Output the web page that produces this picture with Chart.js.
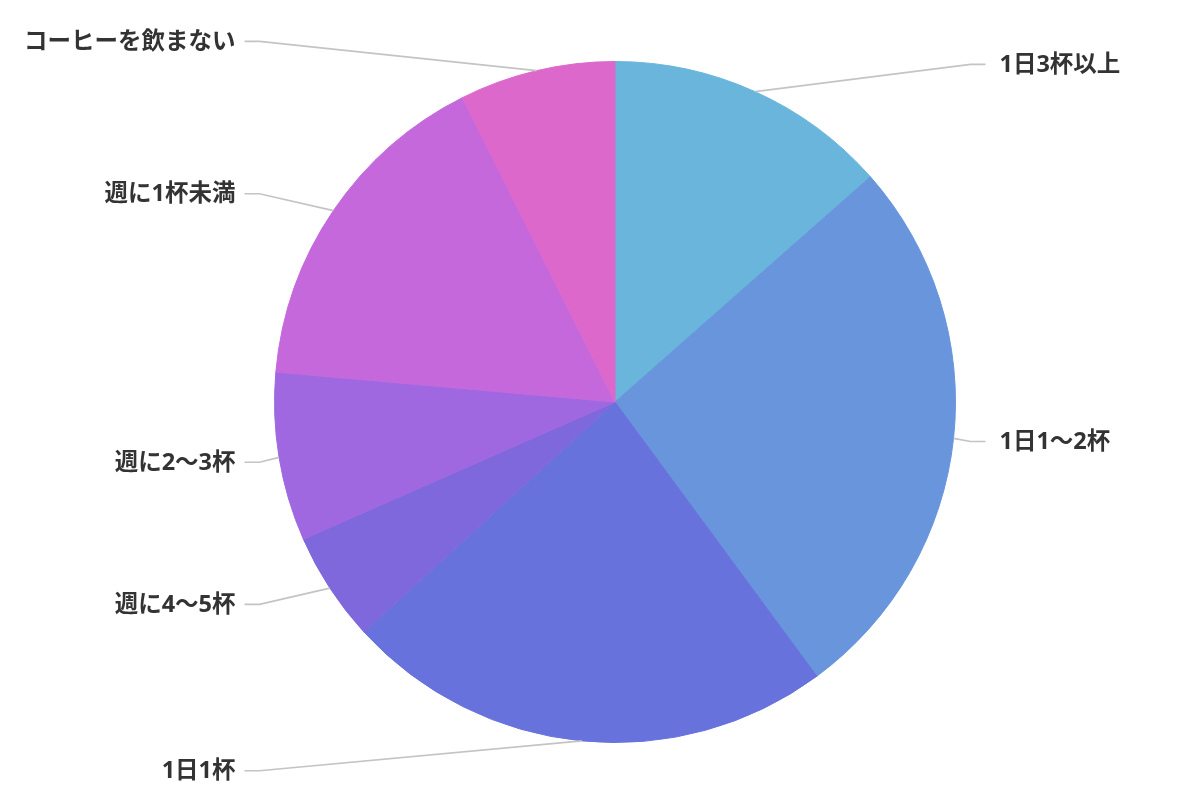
<!DOCTYPE html>
<html>
<head>
<meta charset="utf-8">
<script src="https://cdn.jsdelivr.net/npm/chart.js@4"></script>
<style>
    html, body { margin: 0; padding: 0; background: #fff; }
    .chart-box { width: 1186px; height: 806px; }
</style>
</head>
<body>
<div class="chart-box"><canvas id="coffee"></canvas></div>
<script>
const labels = ["1日3杯以上", "1日1〜2杯", "1日1杯", "週に4〜5杯", "週に2〜3杯", "週に1杯未満", "コーヒーを飲まない"]
const shares = [13.5, 26.4, 23.3, 5.2, 8.0, 16.2, 7.4]
const colors = ["#69b5db", "#6895dc", "#6872dc", "#7f68dc", "#a068e0", "#c468dc", "#dc68cc"]

// labels outside the pie with a leader line, like the original
const outerLabels = {
    id: "outerLabels",
    afterDraw(chart){
        const ctx = chart.ctx
        const arcs = chart.getDatasetMeta(0).data
        ctx.save()
        ctx.font = "bold 23.5px 'Open Sans', 'Noto Sans CJK JP', sans-serif"
        ctx.textBaseline = "middle"
        ctx.fillStyle = "#333333"
        ctx.strokeStyle = "#c4c4c4"
        ctx.lineWidth = 1.7
        arcs.forEach((arc, i) => {
            const cx = arc.x, cy = arc.y, r = arc.outerRadius
            const mid = (arc.startAngle + arc.endAngle) / 2
            const right = Math.cos(mid) >= 0
            const sx = cx + Math.cos(mid) * r
            const sy = cy + Math.sin(mid) * r
            const ly = cy + Math.sin(mid) * (r + 30)
            const dir = right ? 1 : -1
            const elbowX = cx + dir * (r + 15)
            const endX = cx + dir * (r + 30)
            ctx.beginPath()
            ctx.moveTo(sx, sy)
            ctx.lineTo(elbowX, ly)
            ctx.lineTo(endX, ly)
            ctx.stroke()
            ctx.textAlign = right ? "left" : "right"
            ctx.fillText(labels[i], right ? cx + r + 44 : cx - r - 39, ly + 1)
        })
        ctx.restore()
    }
}

new Chart(document.getElementById("coffee"), {
    type: "pie",
    data: {
        labels: labels,
        datasets: [{
            data: shares,
            backgroundColor: colors,
            borderColor: colors,
            borderWidth: 1
        }]
    },
    options: {
        responsive: true,
        maintainAspectRatio: false,
        animation: false,
        layout: {
            padding: { top: 61, bottom: 63, left: 44, right: 0 }
        },
        plugins: {
            legend: { display: false },
            tooltip: { enabled: false }
        }
    },
    plugins: [outerLabels]
})
</script>
</body>
</html>
